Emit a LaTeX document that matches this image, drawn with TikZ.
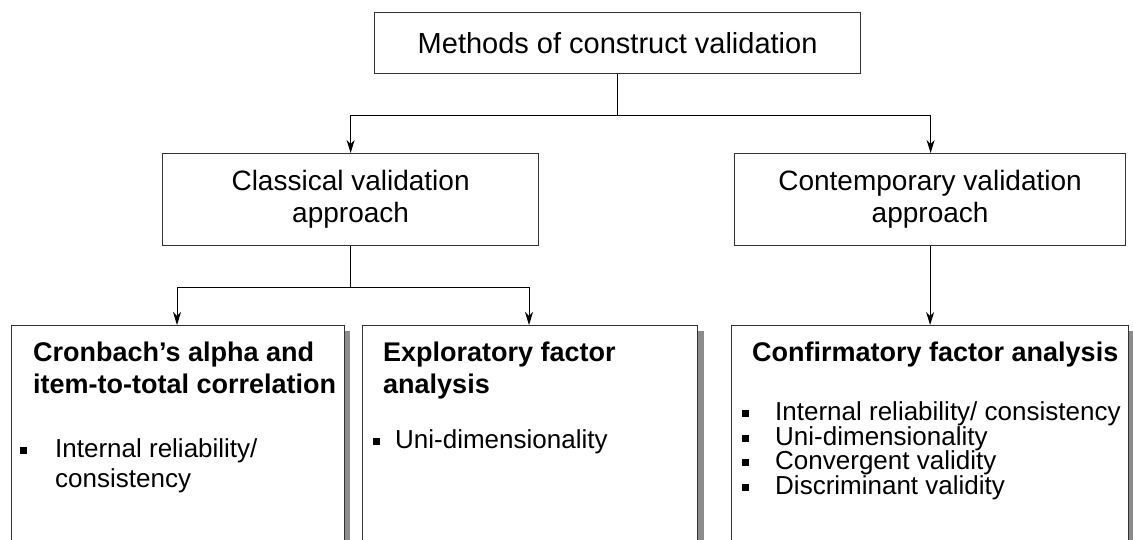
\documentclass[tikz,border=0pt]{standalone}
\usepackage{fontspec}
\setmainfont{Liberation Sans}
\usetikzlibrary{arrows.meta,calc}

\tikzset{
  box/.style={draw=black!80, line width=1.2pt, fill=white, inner sep=0pt, anchor=north west},
  shade bar/.style={fill=black!45, draw=none},
  link/.style={draw=black, line width=1pt},
  arr/.style={link, -{Stealth[length=13pt, width=8pt, inset=4pt]}},
  big/.style={font=\fontsize{28}{32}\selectfont, align=center},
  head/.style={font=\fontsize{27}{32}\selectfont\bfseries, anchor=base west, inner sep=0pt},
  item/.style={font=\fontsize{26}{30}\selectfont, anchor=base west, inner sep=0pt},
}
\newcommand{\sqbul}{\rule[3pt]{7pt}{7pt}}

\begin{document}
\begin{tikzpicture}[x=1pt, y=-1pt]
  \useasboundingbox (0,0) rectangle (1133,539);

  % top level
  \node[box, minimum width=486pt, minimum height=61pt] (top) at (374,12) {};
  \node[big, font=\fontsize{29}{33}\selectfont] (toptext) at (top.center) {Methods of construct validation};

  % second level
  \node[box, minimum width=376pt, minimum height=92pt] (classical) at (162,153) {};
  \node[big] (classicaltext) at (classical.center) {Classical validation\\approach};
  \node[box, minimum width=391pt, minimum height=92pt] (contemp) at (734,153) {};
  \node[big] (contemptext) at (contemp.center) {Contemporary validation\\approach};

  % third level: drop shadows, then boxes
  \fill[shade bar] (344,331) rectangle (350,560);
  \fill[shade bar] (697,331) rectangle (704,560);
  \fill[shade bar] (1128,331) rectangle (1135,560);
  \node[box, minimum width=333pt, minimum height=240pt] (cronbach) at (11,325) {};
  \node[box, minimum width=335pt, minimum height=240pt] (explor) at (362,325) {};
  \node[box, minimum width=397pt, minimum height=240pt] (confirm) at (731,325) {};

  % connectors
  \coordinate (j1) at ($(top.south)+(0,41)$);
  \path[link] (top.south) -- (j1);
  \path[arr] (j1) -| (classical.north);
  \path[arr] (j1) -| ([xshift=0.5pt]contemp.north);
  \coordinate (j2) at ($(classical.south)+(0,41)$);
  \path[link] (classical.south) -- (j2);
  \coordinate (cin) at ($(cronbach.north west)+(166,0)$);
  \coordinate (ein) at ($(explor.north west)+(167,0)$);
  \path[arr] (j2) -| (cin);
  \path[arr] (j2) -| (ein);
  \path[arr] (contemp.south) -- (contemp.south |- confirm.north);

  % Cronbach box text
  \node[head] (c1) at (33,361) {Cronbach’s alpha and};
  \node[head] (c2) at (33,393) {item-to-total correlation};
  \node[item] (c3) at (20,457) {\makebox[35pt][l]{\sqbul}Internal reliability/};
  \node[item] (c4) at (55,487) {consistency};

  % exploratory box text
  \node[head] (e1) at (383,361) {Exploratory factor};
  \node[head] (e2) at (383,393) {analysis};
  \node[item] (e3) at (373,448) {\makebox[22pt][l]{\sqbul}Uni-dimensionality};

  % confirmatory box text
  \node[head] (f1) at (752,361) {Confirmatory factor analysis};
  \node[item] (f2) at (742,420) {\makebox[33pt][l]{\sqbul}Internal reliability/ consistency};
  \node[item] (f3) at (742,445) {\makebox[33pt][l]{\sqbul}Uni-dimensionality};
  \node[item] (f4) at (742,469) {\makebox[33pt][l]{\sqbul}Convergent validity};
  \node[item] (f5) at (742,494) {\makebox[33pt][l]{\sqbul}Discriminant validity};
\end{tikzpicture}
\end{document}
